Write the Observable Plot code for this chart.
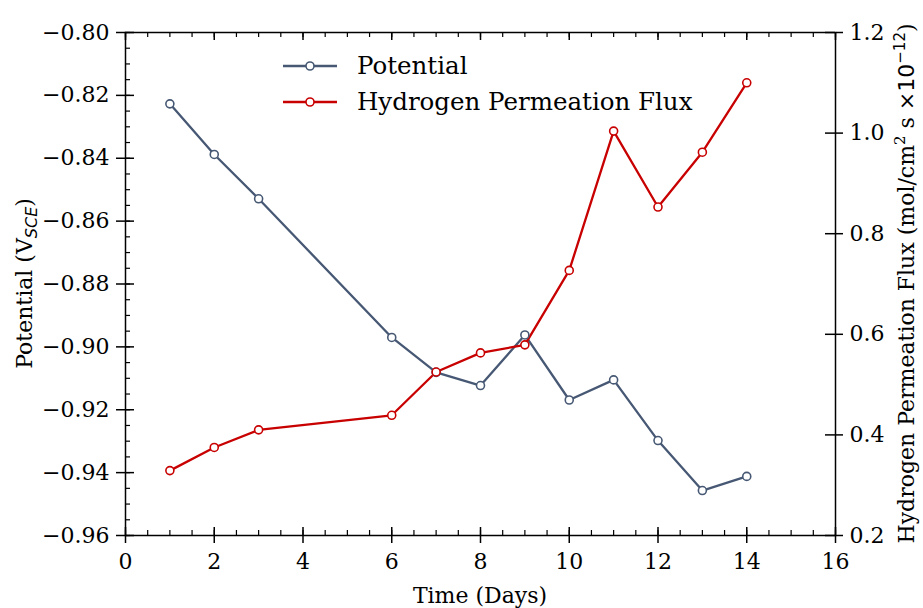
<!DOCTYPE html>
<html>
<head>
<meta charset="utf-8">
<script src="https://cdn.jsdelivr.net/npm/d3@7"></script>
<script src="https://cdn.jsdelivr.net/npm/@observablehq/plot@0.6"></script>
<style>
  html, body { margin: 0; padding: 0; background: #fff; }
  #chart svg { display: block; }
</style>
</head>
<body>
<div id="chart"></div>
<script>
// ---- data ----
const days = [1, 2, 3, 6, 7, 8, 9, 10, 11, 12, 13, 14];
const potential = [-0.8227, -0.8388, -0.8529, -0.8970, -0.9081, -0.9123, -0.8962, -0.9169, -0.9105, -0.9298, -0.9457, -0.9412];
const flux = [0.329, 0.375, 0.410, 0.439, 0.525, 0.563, 0.579, 0.727, 1.004, 0.853, 0.962, 1.100];
const seriesNames = ["Potential", "Hydrogen Permeation Flux"];
const seriesColors = ["#475874", "#c80000"];
const xTicks = [0, 2, 4, 6, 8, 10, 12, 14, 16];
const xMinor = d3.range(0, 16.01, 0.5);
const yTicks = [-0.96, -0.94, -0.92, -0.90, -0.88, -0.86, -0.84, -0.82, -0.80];
const yMinor = d3.range(-0.96, -0.7999, 0.005);
const fluxTicks = [0.2, 0.4, 0.6, 0.8, 1.0, 1.2];

// ---- dual axis mapping ----
const yDomain = [-0.96, -0.80];
const fDomain = [0.2, 1.2];
const toPot = f => yDomain[0] + (f - fDomain[0]) * (yDomain[1] - yDomain[0]) / (fDomain[1] - fDomain[0]);
const fromPot = p => fDomain[0] + (p - yDomain[0]) * (fDomain[1] - fDomain[0]) / (yDomain[1] - yDomain[0]);

const potRows = days.map((d, i) => ({day: d, v: potential[i]}));
const fluxRows = days.map((d, i) => ({day: d, v: toPot(flux[i])}));

const W = 923, H = 608;
const mL = 125, mR = 88, mT = 32, mB = 73;
const pw = W - mL - mR, ph = H - mT - mB;
const FONT = "DejaVu Serif";
const FS = 22;

const chart = Plot.plot({
  width: W, height: H,
  marginLeft: mL, marginRight: mR, marginTop: mT, marginBottom: mB,
  style: {fontFamily: FONT, fontSize: FS + "px", color: "black", background: "white"},
  x: {domain: [0, 16]},
  y: {domain: yDomain},
  marks: [
    Plot.frame({stroke: "black", strokeWidth: 1.5}),
    // left axis
    Plot.axisY(yTicks, {anchor: "left", tickSize: 9, tickPadding: 7, fontSize: FS, label: null,
      tickFormat: d => d3.format(".2f")(d), strokeWidth: 1.5}),
    Plot.tickY(yTicks, {y: d => d, insetRight: pw - 9, stroke: "black", strokeWidth: 1.5}),
    Plot.tickY(yMinor, {y: d => d, insetRight: pw - 5, stroke: "black", strokeWidth: 1.2}),
    // right axis
    Plot.axisY(fluxTicks.map(toPot), {anchor: "right", tickSize: 7, tickPadding: 7, fontSize: FS, label: null,
      tickFormat: d => d3.format(".1f")(fromPot(d)), strokeWidth: 1.5}),
    Plot.tickY(fluxTicks.map(toPot), {y: d => d, insetLeft: pw - 10, stroke: "black", strokeWidth: 1.5}),
    // bottom axis
    Plot.axisX(xTicks, {anchor: "bottom", tickSize: 8, tickPadding: 10, fontSize: FS, label: null,
      tickFormat: d => String(d), strokeWidth: 1.5}),
    Plot.tickX(xTicks, {x: d => d, insetTop: ph - 8, stroke: "black", strokeWidth: 1.5}),
    Plot.tickX(xMinor, {x: d => d, insetTop: ph - 5, stroke: "black", strokeWidth: 1.2}),
    // top ticks
    Plot.tickX(xTicks, {x: d => d, insetBottom: ph - 8, stroke: "black", strokeWidth: 1.5}),
    Plot.tickX(xMinor, {x: d => d, insetBottom: ph - 5, stroke: "black", strokeWidth: 1.2}),
    // series
    Plot.line(potRows, {x: "day", y: "v", stroke: seriesColors[0], strokeWidth: 2.3}),
    Plot.line(fluxRows, {x: "day", y: "v", stroke: seriesColors[1], strokeWidth: 2.3}),
    Plot.dot(potRows, {x: "day", y: "v", r: 4, fill: "white", stroke: seriesColors[0], strokeWidth: 1.6}),
    Plot.dot(fluxRows, {x: "day", y: "v", r: 4, fill: "white", stroke: seriesColors[1], strokeWidth: 1.6})
  ]
});

document.getElementById("chart").appendChild(chart);

// ---- labels and legend ----
const svg = d3.select(chart);
const cy = (mT + H - mB) / 2;

svg.append("text")
  .attr("x", (mL + W - mR) / 2).attr("y", 603)
  .attr("text-anchor", "middle").attr("font-family", FONT).attr("font-size", FS).attr("fill", "black")
  .text("Time (Days)");

const yl = svg.append("text")
  .attr("transform", `translate(32,${cy}) rotate(-90)`)
  .attr("text-anchor", "middle").attr("font-family", FONT).attr("font-size", FS).attr("fill", "black");
yl.append("tspan").text("Potential (V");
yl.append("tspan").attr("font-family", "DejaVu Sans").attr("font-style", "italic").attr("font-size", 16).attr("dy", 5).text("SCE");
yl.append("tspan").attr("dy", -5).text(")");

const rl = svg.append("text")
  .attr("transform", `translate(914,${cy}) rotate(-90)`)
  .attr("text-anchor", "middle").attr("font-family", FONT).attr("font-size", FS).attr("fill", "black");
rl.append("tspan").text("Hydrogen Permeation Flux (mol/cm");
rl.append("tspan").attr("font-size", 15).attr("dy", -9).text("2");
rl.append("tspan").attr("dy", 9).text(" s ");
rl.append("tspan").attr("font-family", "DejaVu Sans").text("×10");
rl.append("tspan").attr("font-family", "DejaVu Sans").attr("font-size", 15).attr("dy", -9).text("−12");
rl.append("tspan").attr("dy", 9).text(")");

const leg = svg.append("g").attr("text-anchor", "start");
seriesNames.forEach((name, i) => {
  const y = 66 + i * 36;
  leg.append("line").attr("x1", 283).attr("x2", 337).attr("y1", y).attr("y2", y)
    .attr("stroke", seriesColors[i]).attr("stroke-width", 2.3);
  leg.append("circle").attr("cx", 310).attr("cy", y).attr("r", 4)
    .attr("fill", "white").attr("stroke", seriesColors[i]).attr("stroke-width", 1.6);
  leg.append("text").attr("x", 357).attr("y", y + 8).attr("text-anchor", "start")
    .attr("font-family", FONT).attr("font-size", 24.5).attr("fill", "black").text(name);
});
</script>
</body>
</html>
